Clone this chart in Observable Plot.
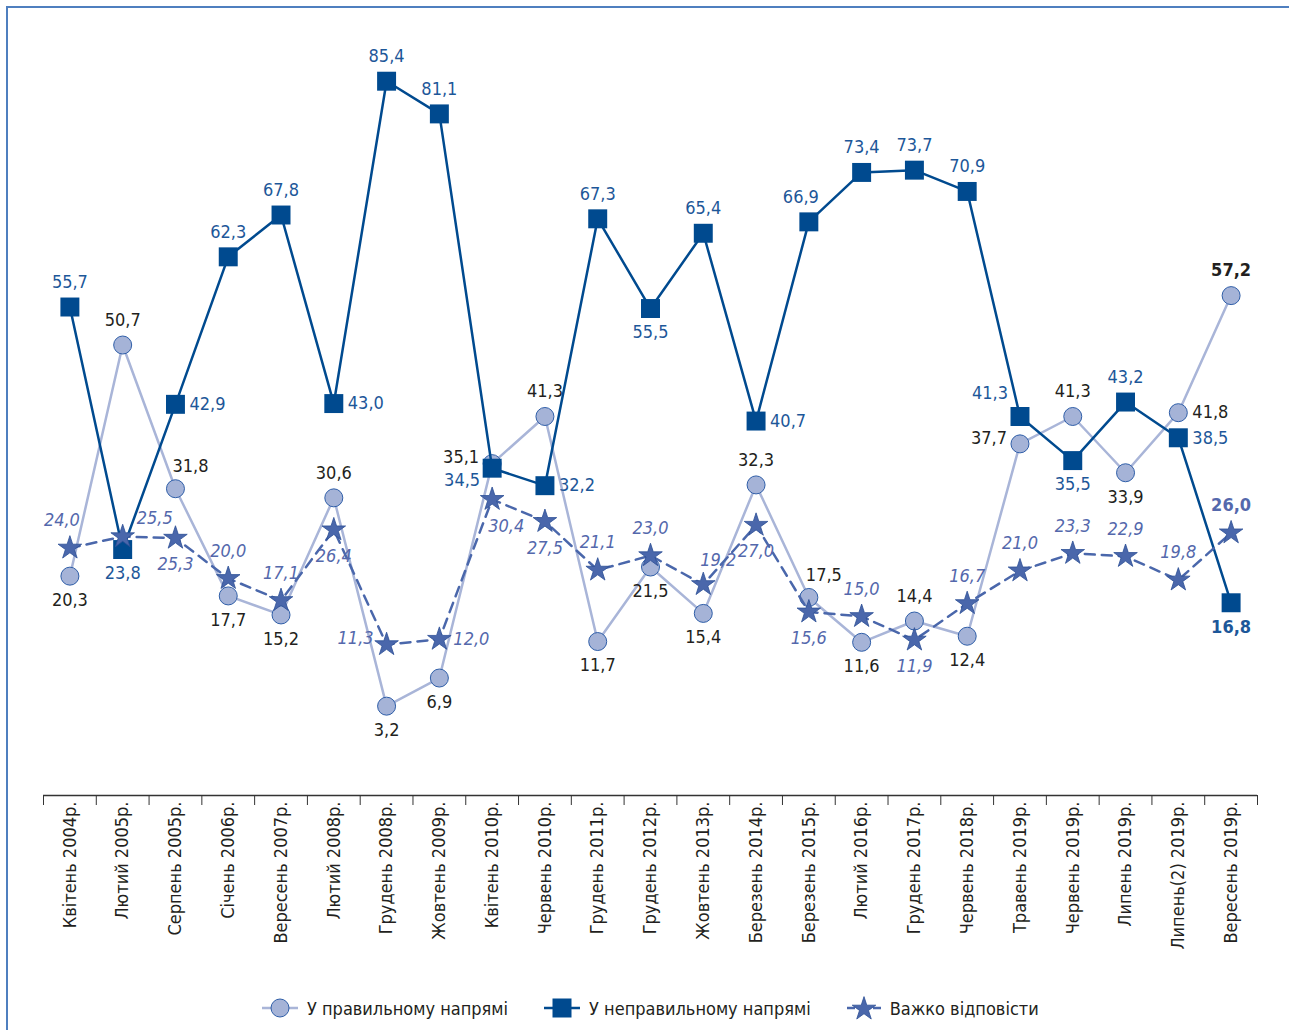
<!DOCTYPE html>
<html><head><meta charset="utf-8">
<script src="https://cdn.jsdelivr.net/npm/d3@7"></script>
<script src="https://cdn.jsdelivr.net/npm/@observablehq/plot@0.6"></script>
<style>
body{margin:0;background:#fff;font-family:"Liberation Sans Narrow","DejaVu Sans Condensed","Roboto",sans-serif;}
#wrap{position:relative;width:1289px;height:1030px;overflow:hidden;background:#fff}
#frame{position:absolute;left:6px;top:6px;width:1300px;height:1100px;border-left:2px solid #4f7fbf;border-top:2px solid #4f7fbf;}
#chart{position:absolute;left:0;top:0}
#legend{position:absolute;top:994px;left:262px;display:flex;align-items:center;font-size:18px;color:#231f20;white-space:nowrap}
#legend .it{display:flex;align-items:center;margin-right:36px}
#legend svg{margin-right:9px}
</style></head>
<body>
<div id="wrap">
<div id="frame"></div>
<div id="chart"></div>
<div id="legend">
 <div class="it"><svg width="36" height="26"><line x1="0" y1="13" x2="36" y2="13" stroke="#a9b5d8" stroke-width="2.5"/><circle cx="18" cy="13" r="9" fill="#a5b3d7" stroke="#2f5ea8" stroke-width="1"/></svg><span>У правильному напрямі</span></div>
 <div class="it"><svg width="36" height="26"><line x1="0" y1="13" x2="36" y2="13" stroke="#004a8f" stroke-width="2.5"/><rect x="8.5" y="3.5" width="19" height="19" fill="#004a8f"/></svg><span>У неправильному напрямі</span></div>
 <div class="it"><svg width="34" height="28"><line x1="0" y1="14" x2="34" y2="14" stroke="#4a67ab" stroke-width="2.5" stroke-dasharray="8,5"/><path id="lstar" transform="translate(17,15)" fill="#4a67ab" stroke="#2c4f96" stroke-width="0.8"/></svg><span>Важко відповісти</span></div>
</div>
</div>
<script>
const categories = ["Квітень 2004р.","Лютий 2005р.","Серпень 2005р.","Січень 2006р.","Вересень 2007р.","Лютий 2008р.","Грудень 2008р.","Жовтень 2009р.","Квітень 2010р.","Червень 2010р.","Грудень 2011р.","Грудень 2012р.","Жовтень 2013р.","Березень 2014р.","Березень 2015р.","Лютий 2016р.","Грудень 2017р.","Червень 2018р.","Травень 2019р.","Червень 2019р.","Липень 2019р.","Липень(2) 2019р.","Вересень 2019р."];
const rightDir = [20.3,50.7,31.8,17.7,15.2,30.6,3.2,6.9,35.1,41.3,11.7,21.5,15.4,32.3,17.5,11.6,14.4,12.4,37.7,41.3,33.9,41.8,57.2];
const wrongDir = [55.7,23.8,42.9,62.3,67.8,43.0,85.4,81.1,34.5,32.2,67.3,55.5,65.4,40.7,66.9,73.4,73.7,70.9,41.3,35.5,43.2,38.5,16.8];
const hardSay  = [24.0,25.5,25.3,20.0,17.1,26.4,11.3,12.0,30.4,27.5,21.1,23.0,19.2,27.0,15.6,15.0,11.9,16.7,21.0,23.3,22.9,19.8,26.0];

// label placement codes (layout only)
const rightPos = ["b","t","tr","b","b","t","b","b","l","t","b","b","b","t","tr","b","t","b","l","t","b","r","t"];
const wrongPos = ["t","b","r","t","t","r","t","t","lb","r","t","b","t","r","tl","t","t","t","lt","b","t","r","b"];
const hardPos  = ["tl","ru","b","t","t","b","l","r","br","b","t","t","tr","b","b","t","b","t","t","t","t","t","t"];
const boldLast = categories.map((_, i) => i === categories.length - 1);

const rows = categories.map((c, i) => ({i, cat: c, right: rightDir[i], wrong: wrongDir[i], hard: hardSay[i]}));

const W = 1289, H = 975, axisY = 795;
const yMin = -8.55, yMax = 94.7;
const mL = 43, mR = 32;
const step = (W - mL - mR) / categories.length;
const FONT = '"Liberation Sans Narrow","DejaVu Sans Condensed","Roboto",sans-serif';

const OFF = {
  t:  {dx: 0, dy: -25, a: "middle"},
  b:  {dx: 0, dy: 24, a: "middle"},
  r:  {dx: 14, dy: 0, a: "start"},
  l:  {dx: -13, dy: -6, a: "end"},
  tr: {dx: 15, dy: -22, a: "middle"},
  tl: {dx: -8, dy: -25, a: "middle"},
  lb: {dx: -12, dy: 12, a: "end"},
  lt: {dx: -12, dy: -23, a: "end"},
  ru: {dx: 14, dy: -18, a: "start"},
  br: {dx: 14, dy: 24, a: "middle"}
};

const fmt = v => v.toFixed(1).replace(".", ",");

function labelMarks(key, pos, fill, italic, gapScale) {
  const marks = [];
  for (const code of Object.keys(OFF)) {
    for (const bold of [false, true]) {
      const sub = rows.filter(d => pos[d.i] === code && boldLast[d.i] === bold);
      if (!sub.length) continue;
      const o = OFF[code];
      marks.push(Plot.text(sub, {
        x: "cat", y: key, text: d => fmt(d[key]),
        dx: o.dx, dy: o.dy * (Math.abs(o.dy) > 20 ? gapScale : 1),
        textAnchor: o.a, fill, fontSize: 18,
        fontStyle: italic && !bold ? "italic" : "normal",
        fontWeight: bold ? "bold" : "normal"
      }));
    }
  }
  return marks;
}

const chart = Plot.plot({
  width: W, height: H,
  marginLeft: mL, marginRight: mR, marginTop: 10, marginBottom: H - axisY,
  x: {type: "point", domain: categories, padding: 0.5, round: false, axis: null, label: null},
  y: {domain: [yMin, yMax], axis: null, label: null},
  style: {fontFamily: FONT, background: "transparent", overflow: "visible"},
  marks: [
    Plot.ruleY([yMin], {stroke: "#333", strokeWidth: 1.3}),
    Plot.axisX({ticks: categories, tickSize: 10, dx: -step / 2, tickFormat: () => "", stroke: "#333", label: null}),
    Plot.axisX({ticks: categories.slice(-1), tickSize: 10, dx: step / 2, tickFormat: () => "", stroke: "#333", label: null}),
    Plot.axisX({ticks: categories, tickSize: 0, tickRotate: -90, tickPadding: 6, fontSize: 18, fill: "#231f20", label: null}),
    Plot.line(rows, {x: "cat", y: "right", stroke: "#a9b5d8", strokeWidth: 2.5}),
    Plot.dot(rows, {x: "cat", y: "right", r: 9, fill: "#a5b3d7", stroke: "#2f5ea8", strokeWidth: 1}),
    Plot.line(rows, {x: "cat", y: "wrong", stroke: "#004a8f", strokeWidth: 2.5}),
    Plot.dot(rows, {x: "cat", y: "wrong", symbol: "square", r: 10.7, fill: "#004a8f"}),
    Plot.line(rows, {x: "cat", y: "hard", stroke: "#4a67ab", strokeWidth: 2.5, strokeDasharray: "10,7"}),
    Plot.dot(rows, {x: "cat", y: "hard", symbol: "star", r: 7.4, fill: "#4a67ab", stroke: "#2c4f96", strokeWidth: 0.8}),
    ...labelMarks("right", rightPos, "#231f20", false, 1),
    ...labelMarks("wrong", wrongPos, "#1d5799", false, 1),
    ...labelMarks("hard", hardPos, "#5468ac", true, 1.1)
  ]
});
document.getElementById("chart").appendChild(chart);
document.getElementById("lstar").setAttribute("d", d3.symbol(d3.symbolStar, Math.PI * 7.4 * 7.4)());
</script>
</body></html>
